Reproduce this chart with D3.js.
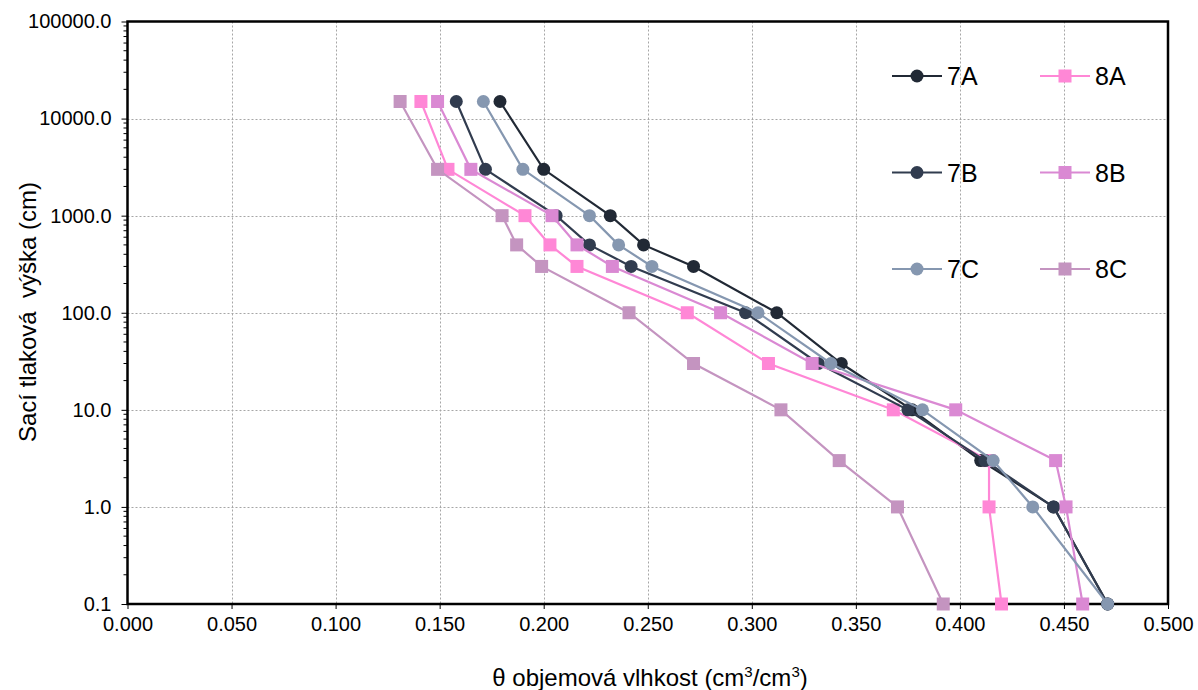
<!DOCTYPE html>
<html>
<head>
<meta charset="utf-8">
<script src="https://cdn.jsdelivr.net/npm/d3@7"></script>
<style>
  body { margin: 0; background: #fff; }
  svg text { font-family: "Liberation Sans", Arial, sans-serif; fill: #000; }
</style>
</head>
<body>
<svg id="chart" width="1198" height="690"></svg>
<script>
// Suction levels (cm) shared by all samples
const suction = [15000, 3000, 1000, 500, 300, 100, 30, 10, 3, 1, 0.1];

// Volumetric moisture per sample (cm3/cm3)
const s7A = [0.179, 0.200, 0.232, 0.248, 0.272, 0.312, 0.343, 0.377, 0.410, 0.445, 0.471];
const s7B = [0.158, 0.172, 0.206, 0.222, 0.242, 0.297, 0.332, 0.375, 0.412, 0.445, 0.471];
const s7C = [0.171, 0.190, 0.222, 0.236, 0.252, 0.303, 0.338, 0.382, 0.416, 0.435, 0.471];
const s8A = [0.141, 0.154, 0.191, 0.203, 0.216, 0.269, 0.308, 0.368, 0.414, 0.414, 0.420];
const s8B = [0.149, 0.165, 0.204, 0.216, 0.233, 0.285, 0.329, 0.398, 0.446, 0.451, 0.459];
const s8C = [0.131, 0.149, 0.180, 0.187, 0.199, 0.241, 0.272, 0.314, 0.342, 0.370, 0.392];

// Series in Excel order (legend fills row by row)
const series = [
  { name: "7A", values: s7A, color: "#212935", shape: "circle" },
  { name: "8A", values: s8A, color: "#ff87d6", shape: "square" },
  { name: "7B", values: s7B, color: "#313c4f", shape: "circle" },
  { name: "8B", values: s8B, color: "#da89d3", shape: "square" },
  { name: "7C", values: s7C, color: "#8597b0", shape: "circle" },
  { name: "8C", values: s8C, color: "#c494c0", shape: "square" }
];

const xTicks = d3.range(0, 0.5001, 0.05);
const yTicks = [0.1, 1, 10, 100, 1000, 10000, 100000];

const svg = d3.select("#chart");
const plotL = 127.5, plotR = 1168, plotT = 21.5, plotB = 604;

const x = d3.scaleLinear().domain([0, 0.5]).range([plotL, plotR]);
const y = d3.scaleLog().domain([0.1, 100000]).range([plotB, plotT]);

// Grid lines
const grid = svg.append("g")
  .attr("stroke", "#a6a6a6")
  .attr("stroke-width", 1)
  .attr("stroke-dasharray", "2,2");

grid.selectAll(".vg")
  .data(xTicks.slice(1, -1))
  .enter().append("line")
  .attr("x1", d => Math.round(x(d)) + 0.5)
  .attr("x2", d => Math.round(x(d)) + 0.5)
  .attr("y1", plotT)
  .attr("y2", plotB);

grid.selectAll(".hg")
  .data(yTicks.slice(1, -1))
  .enter().append("line")
  .attr("x1", plotL)
  .attr("x2", plotR)
  .attr("y1", d => Math.round(y(d)) + 0.5)
  .attr("y2", d => Math.round(y(d)) + 0.5);

// Axes
const xAxis = svg.append("g")
  .attr("transform", `translate(0,${plotB})`)
  .call(d3.axisBottom(x).tickValues(xTicks).tickFormat(d3.format(".3f")).tickSizeInner(5).tickSizeOuter(0).tickPadding(8));

// minor ticks on the log axis
const minorTicks = [];
for (let e = -1; e < 5; e++) {
  for (let m = 2; m <= 9; m++) minorTicks.push(m * Math.pow(10, e));
}

const yAxis = svg.append("g")
  .attr("transform", `translate(${plotL},0)`)
  .call(d3.axisLeft(y).tickValues(yTicks).tickFormat(d3.format(".1f")).tickSizeInner(6).tickSizeOuter(0).tickPadding(10));

svg.append("g")
  .attr("transform", `translate(${plotL},0)`)
  .selectAll("line")
  .data(minorTicks)
  .enter().append("line")
  .attr("x1", -4)
  .attr("x2", 0)
  .attr("y1", d => y(d))
  .attr("y2", d => y(d))
  .attr("stroke", "#000")
  .attr("stroke-width", 1);

[xAxis, yAxis].forEach(a => {
  a.select(".domain").remove();
  a.selectAll("line").attr("stroke", "#000");
  a.selectAll("text").style("font-size", "20px").attr("fill", "#000");
});

// Plot frame
svg.append("rect")
  .attr("x", plotL)
  .attr("y", plotT)
  .attr("width", plotR - plotL)
  .attr("height", plotB - plotT)
  .attr("fill", "none")
  .attr("stroke", "#000")
  .attr("stroke-width", 2.5);

// Series lines and markers
const line = d3.line()
  .x(d => x(d.v))
  .y(d => y(d.s));

series.forEach(s => {
  const pts = s.values.map((v, i) => ({ v, s: suction[i] }));
  const g = svg.append("g");

  g.append("path")
    .datum(pts)
    .attr("d", line)
    .attr("fill", "none")
    .attr("stroke", s.color)
    .attr("stroke-width", 2.2);

  if (s.shape === "circle") {
    g.selectAll("circle")
      .data(pts)
      .enter().append("circle")
      .attr("cx", d => x(d.v))
      .attr("cy", d => y(d.s))
      .attr("r", 6.5)
      .attr("fill", s.color);
  } else {
    g.selectAll("rect")
      .data(pts)
      .enter().append("rect")
      .attr("x", d => x(d.v) - 6.5)
      .attr("y", d => y(d.s) - 6.5)
      .attr("width", 13)
      .attr("height", 13)
      .attr("fill", s.color);
  }
});

// Legend (2 columns x 3 rows)
const legendCols = [892, 1040];
const legendRows = [76, 172.5, 269];

series.forEach((s, i) => {
  const lx = legendCols[i % 2];
  const ly = legendRows[Math.floor(i / 2)];
  const g = svg.append("g").attr("transform", `translate(${lx},${ly})`);
  g.append("line")
    .attr("x1", 0).attr("x2", 50)
    .attr("stroke", s.color)
    .attr("stroke-width", 2.2);
  if (s.shape === "circle") {
    g.append("circle").attr("cx", 25).attr("r", 6.5).attr("fill", s.color);
  } else {
    g.append("rect").attr("x", 18.5).attr("y", -6.5).attr("width", 13).attr("height", 13).attr("fill", s.color);
  }
  g.append("text")
    .attr("x", 55)
    .attr("y", 9)
    .style("font-size", "25px")
    .text(s.name);
});

// Axis titles
const xt = svg.append("text")
  .attr("x", 650)
  .attr("y", 686)
  .attr("text-anchor", "middle")
  .style("font-size", "24px");
xt.append("tspan").text("θ objemová vlhkost (cm");
xt.append("tspan").attr("dy", -9).style("font-size", "15px").text("3");
xt.append("tspan").attr("dy", 9).text("/cm");
xt.append("tspan").attr("dy", -9).style("font-size", "15px").text("3");
xt.append("tspan").attr("dy", 9).text(")");

svg.append("text")
  .attr("transform", "translate(36,312) rotate(-90)")
  .attr("text-anchor", "middle")
  .style("font-size", "24px")
  .style("white-space", "pre")
  .text("Sací tlaková  výška (cm)");
</script>
</body>
</html>
